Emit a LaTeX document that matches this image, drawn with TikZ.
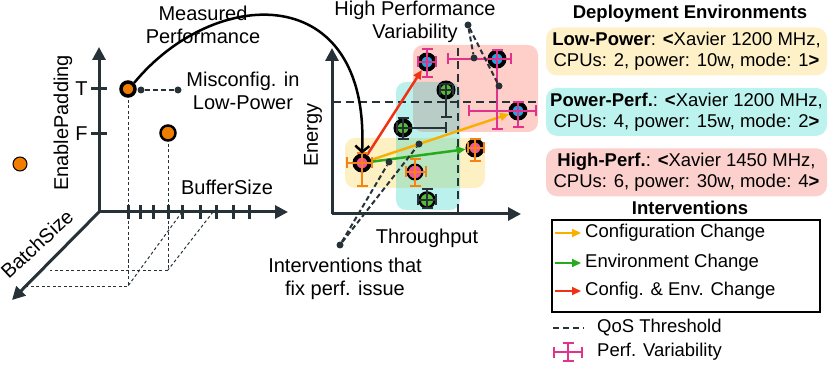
\documentclass[tikz,border=0pt]{standalone}
\usepackage{fontspec}
\setmainfont{Liberation Sans}
\usetikzlibrary{arrows.meta,positioning,calc}

\definecolor{axisgray}{RGB}{38,50,56}
\definecolor{ptorange}{RGB}{240,125,0}
\definecolor{ptpink}{RGB}{240,85,160}
\definecolor{ptgreen}{RGB}{85,190,50}
\definecolor{ptblue}{RGB}{30,165,230}
\definecolor{barorange}{RGB}{245,130,20}
\definecolor{barmag}{RGB}{225,50,140}
\definecolor{envyellow}{RGB}{254,241,200}
\definecolor{envcyan}{RGB}{188,243,238}
\definecolor{envpink}{RGB}{252,208,204}
\definecolor{arrorange}{RGB}{250,175,0}
\definecolor{arrgreen}{RGB}{40,170,30}
\definecolor{arrred}{RGB}{240,50,20}
\definecolor{regyellow}{RGB}{248,200,30}
\definecolor{regcyan}{RGB}{0,205,190}
\definecolor{regpink}{RGB}{250,60,40}

\newcommand{\errbars}[6]{%
  \draw[ebar,draw=#2] ($(#1)+(-#3,0)$) -- ($(#1)+(#4,0)$);
  \draw[ebar,draw=#2] ($(#1)+(0,-#5)$) -- ($(#1)+(0,#6)$);
}

\begin{document}
\begin{tikzpicture}[x=1pt,y=-1pt,
  axis/.style={draw=axisgray,line width=3pt,-{Triangle[length=13pt,width=13pt]}},
  tick/.style={draw=axisgray,line width=3pt},
  proj/.style={draw=axisgray,line width=1pt,dash pattern=on 3pt off 2.5pt},
  qos/.style={draw=axisgray,line width=2.5pt,dash pattern=on 8pt off 5pt},
  lbl/.style={font=\fontsize{20}{23}\selectfont,align=center,inner sep=1pt},
  envbox/.style={rounded corners=11pt,minimum width=281pt,minimum height=48pt,
    align=center,font=\fontsize{18.5}{21}\selectfont,inner sep=0pt},
  legtxt/.style={anchor=west,font=\fontsize{18.5}{21}\selectfont,inner sep=0pt},
  ptL/.style={circle,draw=black,fill=ptorange,inner sep=0pt},
  ptM/.style={circle,draw=black,line width=4pt,minimum size=15pt,inner sep=0pt},
  dotp/.style={circle,fill=axisgray,inner sep=0pt,minimum size=7pt},
  pointer/.style={draw=axisgray,line width=2pt,dash pattern=on 5pt off 3pt},
  move/.style={line width=2.5pt,-{Triangle[length=9pt,width=8pt]}},
  ebar/.style={line width=2.3pt,{Bar[width=11pt]}-{Bar[width=11pt]}},
]
  \useasboundingbox (0,0) rectangle (830,366);

  %% configuration space (left)
  \coordinate (oL) at (99,212);
  \coordinate (yL) at (99,47);
  \coordinate (xL) at (288,212);
  \coordinate (zL) at (12,300);

  \draw[proj] (128,89) -- (128,286) -- (27,286);
  \draw[proj] (168,133) -- (168,270) -- (50,270);
  \draw[proj] (182,212) -- (128,286);
  \draw[proj] (213,212) -- (168,270);

  \draw[axis] (oL) -- (yL);
  \draw[axis] (oL) -- (xL);
  \draw[axis] (oL) -- (zL);

  \foreach \x in {128,140,153,168,182,200,216,233,249}
    \draw[tick] (\x,205) -- (\x,219);
  \foreach \y/\l in {89/T,134/F}
    \draw[tick] (107,\y) -- (91,\y) node[lbl,left,inner sep=2pt] (tk\l) {\l};

  \node[lbl,rotate=90] (enpad) at (63,123) {EnablePadding};
  \node[lbl] (bufsz) at (227,187) {BufferSize};
  \node[lbl,rotate=43] (batsz) at (37,244) {BatchSize};

  \node[ptL,line width=3.5pt,minimum size=14pt] (lT) at (128,89) {};
  \node[ptL,line width=2.5pt,minimum size=15pt] (lF) at (168,133) {};
  \node[ptL,line width=1pt,minimum size=14pt] (lX) at (20,164) {};

  \node[dotp] (mc0) at (141,90) {};
  \node[dotp] (mc1) at (178,90) {};
  \draw[pointer] (mc0) -- (mc1);
  \node[lbl] (misconf) at (243,91) {Misconfig. in\\Low-Power};
  \node[lbl] (measured) at (203,25) {Measured\\Performance};

  %% performance space (middle)
  \fill[regpink,fill opacity=0.25,rounded corners=10pt] (413,45) rectangle (538,132);
  \fill[regyellow,fill opacity=0.27,rounded corners=10pt] (345,138) rectangle (485,188);
  \fill[regcyan,fill opacity=0.27,rounded corners=10pt] (396,82) rectangle (460,210);

  \coordinate (qh0) at (333,102);
  \coordinate (qh1) at (540,102);
  \coordinate (qv0) at (458,48);
  \coordinate (qv1) at (458,214);
  \draw[qos] (qh0) -- (qh1);
  \draw[qos] (qv0) -- (qv1);

  \coordinate (oM) at (332,214);
  \coordinate (yM) at (332,48);
  \coordinate (xM) at (521,214);
  \draw[axis] (oM) -- (yM);
  \draw[axis] (oM) -- (xM);

  \node[lbl,rotate=90] (energy) at (313,135) {Energy};
  \node[lbl] (thru) at (427,238) {Throughput};
  \node[lbl] (hpv) at (415,22) {High Performance\\Variability};
  \node[lbl] (fixes) at (345,279) {Interventions that\\fix perf. issue};

  \node[ptM,fill=ptpink] (p1) at (362,163) {};
  \node[ptM,fill=ptpink,line width=2pt] (p2) at (415,172) {};
  \node[ptM,fill=ptpink] (p3) at (475,148) {};
  \node[ptM,fill=ptgreen] (p4) at (403,128) {};
  \node[ptM,fill=ptgreen] (p5) at (446,90) {};
  \node[ptM,fill=ptgreen,line width=2.5pt] (p6) at (427,200) {};
  \node[ptM,fill=ptblue] (p7) at (427,62) {};
  \node[ptM,fill=ptblue] (p8) at (497,59) {};
  \node[ptM,fill=ptblue] (p9) at (518,111) {};

  \draw[move,arrred] (p1) -- (p7);
  \draw[move,arrorange] (p1) -- (p9);
  \draw[move,arrgreen] (p1) -- (p3);

  \errbars{p1}{barorange}{16}{11}{11}{24}
  \errbars{p2}{barorange}{10}{12}{14}{15}
  \errbars{p3}{barorange}{8}{10}{10}{14}
  \errbars{p4}{axisgray}{7}{44}{11}{12}
  \errbars{p5}{axisgray}{7}{8}{7}{28}
  \errbars{p6}{axisgray}{10}{10}{12}{9}
  \errbars{p7}{barmag}{10}{10}{14}{16}
  \errbars{p8}{barmag}{50}{15}{10}{71}
  \errbars{p9}{barmag}{50}{19}{10}{17}

  \draw[line width=2.5pt,-{Straight Barb[length=6pt,width=14pt]}]
    (lT.north east) .. controls (215,-15) and (370,-20) .. (p1.north);

  \node[dotp] (hv0) at (468,25) {};
  \node[dotp] (hv1) at (474,58) {};
  \node[dotp] (hv2) at (499,86) {};
  \draw[pointer] (hv0) -- (hv1);
  \draw[pointer] (hv0) -- (hv2);

  \node[dotp] (fx0) at (340,245) {};
  \node[dotp] (fx1) at (389,162) {};
  \node[dotp] (fx2) at (419,144) {};
  \draw[pointer] (fx0) -- (fx1);
  \draw[pointer] (fx0) -- (fx2);

  %% deployment environments (right)
  \node[font=\fontsize{18.5}{21}\selectfont\bfseries] (depl) at (690,14) {Deployment Environments};
  \node[envbox,fill=envyellow] (lowp) at (686.5,51.5)
    {\textbf{Low-Power}: \textbf{<}Xavier 1200 MHz,\\CPUs: 2, power: 10w, mode: 1\textbf{>}};
  \node[envbox,fill=envcyan,below=12pt of lowp] (powp)
    {\textbf{Power-Perf.}: \textbf{<}Xavier 1200 MHz,\\CPUs: 4, power: 15w, mode: 2\textbf{>}};
  \node[envbox,fill=envpink,below=12pt of powp] (highp)
    {\textbf{High-Perf.}: \textbf{<}Xavier 1450 MHz,\\CPUs: 6, power: 30w, mode: 4\textbf{>}};

  %% legend
  \node[font=\fontsize{18.5}{21}\selectfont\bfseries] (intv) at (690,208) {Interventions};
  \node[draw,line width=2pt,minimum width=268pt,minimum height=92pt] (legbox) at (686,266) {};
  \foreach \y/\c/\t [count=\i] in {233/arrorange/Configuration Change,
      263/arrgreen/Environment Change,291/arrred/Config. \& Env. Change} {
    \coordinate (la\i) at (555,\y);
    \coordinate (lb\i) at (581,\y);
    \draw[move,\c] (la\i) -- (lb\i);
    \node[legtxt] (leg\i) at (585,\y) {\t};
  }
  \coordinate (lq0) at (553,328);
  \coordinate (lq1) at (584,328);
  \draw[qos,dash pattern=on 6pt off 4pt] (lq0) -- (lq1);
  \node[legtxt] (legqos) at (597,328) {QoS Threshold};
  \coordinate (lvar) at (568,352);
  \errbars{lvar}{barmag}{15}{15}{10}{10}
  \node[legtxt] (legvar) at (597,352) {Perf. Variability};
\end{tikzpicture}
\end{document}
